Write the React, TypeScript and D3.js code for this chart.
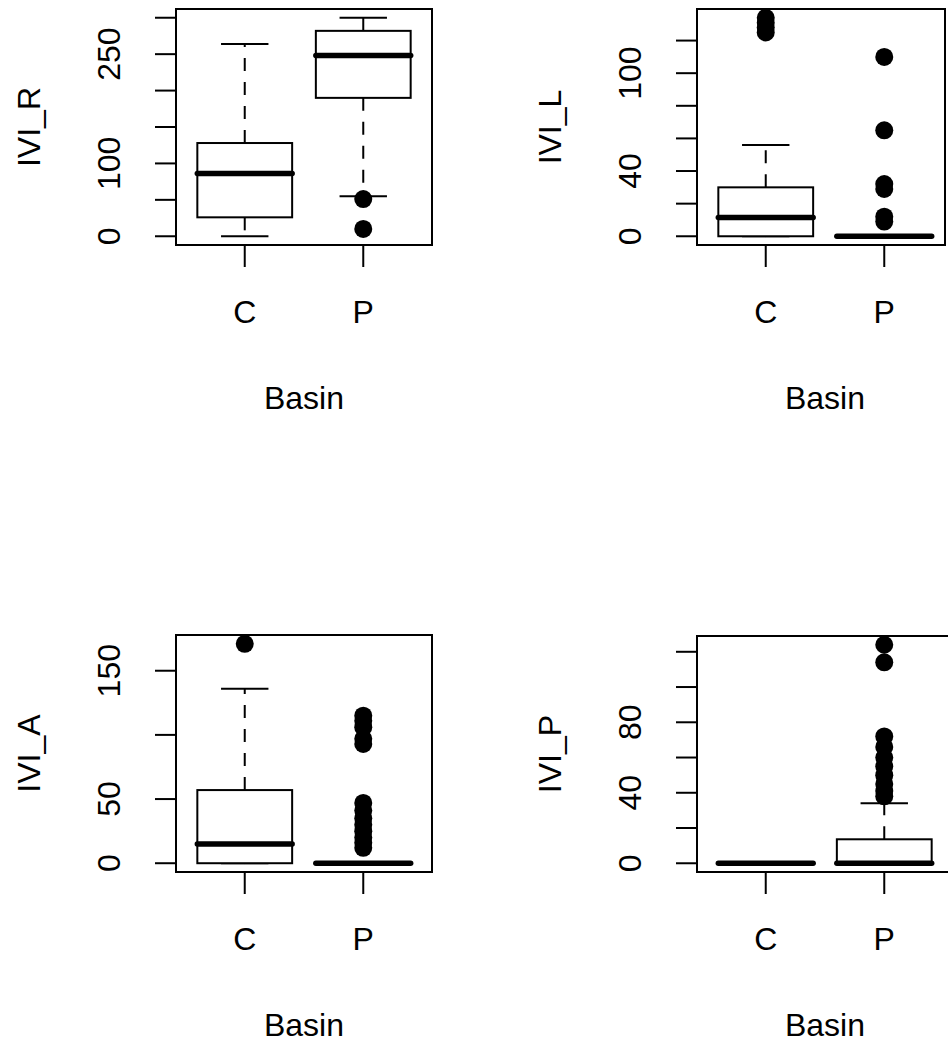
import React from "react";
import * as d3 from "d3";

// categories
const basins = ["C", "P"];
const yVars = ["IVI_R", "IVI_L", "IVI_A", "IVI_P"];

// boxes per basin: [lower whisker, Q1, median, Q3, upper whisker]
const boxR = [[0, 26, 86, 128, 264], [55, 190, 248, 282, 300]];
const outR = [[], [51, 10]];
const ticksR = [0, 50, 100, 150, 200, 250, 300];
const labelsR = [0, 100, 250];

const boxL = [[0, 0, 11.5, 30, 56], [0, 0, 0, 0, 0]];
const outL = [[134, 131, 128, 125], [110, 65, 32, 29, 12, 9]];
const ticksL = [0, 20, 40, 60, 80, 100, 120];
const labelsL = [0, 40, 100];

const boxA = [[0, 0, 15, 57, 136], [0, 0, 0, 0, 0]];
const outA = [[171], [115, 111, 106, 97, 93, 47, 41, 35, 30, 25, 20, 16, 12]];
const ticksA = [0, 50, 100, 150];
const labelsA = [0, 50, 150];

const boxP = [[0, 0, 0, 0, 0], [0, 0, 0, 13.6, 34]];
const outP = [[], [124, 114, 72, 66, 60, 55, 50, 45, 41, 38]];
const ticksP = [0, 20, 40, 60, 80, 100, 120];
const labelsP = [0, 40, 80];

const panelBoxes = [boxR, boxL, boxA, boxP];
const panelOutliers = [outR, outL, outA, outP];
const panelTicks = [ticksR, ticksL, ticksA, ticksP];
const panelLabels = [labelsR, labelsL, labelsA, labelsP];

// plot regions in page pixels
const layout = [
  { left: 176, top: 9, w: 256, h: 236 },
  { left: 697, top: 9, w: 248, h: 236 },
  { left: 176, top: 635, w: 256, h: 237 },
  { left: 697, top: 636, w: 256, h: 236 },
];

const FONT = "'Liberation Sans', Arial, Helvetica, sans-serif";
const FS = 32;

const Panel = ({ i }: { i: number }) => {
  const { left, top, w, h } = layout[i];
  const boxes = panelBoxes[i];
  const outs = panelOutliers[i];
  const all = [...boxes.flat(), ...outs.flat()];
  const lo = d3.min(all) as number;
  const hi = d3.max(all) as number;
  const pad = (hi - lo) * 0.04;
  const y = d3.scaleLinear().domain([lo - pad, hi + pad]).range([top + h, top]);
  // R boxplot x range 0.5..2.5 extended by 4%
  const x = d3.scaleLinear().domain([0.42, 2.58]).range([left, left + 256]);
  const bottom = top + h;
  const half = x(1.4) - x(1);
  const cap = x(1.2) - x(1);

  return (
    <g>
      {boxes.map((b, k) => {
        const cx = x(k + 1);
        const [wl, q1, med, q3, wh] = b;
        return (
          <g key={k}>
            <line x1={cx} x2={cx} y1={y(q3)} y2={y(wh)} stroke="#000" strokeWidth={2} strokeDasharray="13,11" />
            <line x1={cx} x2={cx} y1={y(q1)} y2={y(wl)} stroke="#000" strokeWidth={2} strokeDasharray="13,11" />
            <line x1={cx - cap} x2={cx + cap} y1={y(wh)} y2={y(wh)} stroke="#000" strokeWidth={2} />
            <line x1={cx - cap} x2={cx + cap} y1={y(wl)} y2={y(wl)} stroke="#000" strokeWidth={2} />
            <rect x={cx - half} y={y(q3)} width={2 * half} height={y(q1) - y(q3)} fill="#fff" stroke="#000" strokeWidth={2} />
            <line x1={cx - half} x2={cx + half} y1={y(med)} y2={y(med)} stroke="#000" strokeWidth={5.5} strokeLinecap="round" />
            {outs[k].map((v, j) => (
              <circle key={j} cx={cx} cy={y(v)} r={9} fill="#000" />
            ))}
          </g>
        );
      })}
      <rect x={left} y={top} width={w} height={h} fill="none" stroke="#000" strokeWidth={2} />
      {panelTicks[i].map((t) => (
        <line key={t} x1={left - 21} x2={left} y1={y(t)} y2={y(t)} stroke="#000" strokeWidth={2} />
      ))}
      {panelLabels[i].map((t) => (
        <text
          key={t}
          transform={`translate(${left - 56},${y(t)}) rotate(-90)`}
          textAnchor="middle"
          fontSize={FS}
          fontFamily={FONT}
        >
          {t}
        </text>
      ))}
      <text
        transform={`translate(${left - 136},${top + h / 2}) rotate(-90)`}
        textAnchor="middle"
        fontSize={FS}
        fontFamily={FONT}
      >
        {yVars[i]}
      </text>
      {basins.map((b, k) => (
        <g key={b}>
          <line x1={x(k + 1)} x2={x(k + 1)} y1={bottom} y2={bottom + 22} stroke="#000" strokeWidth={2} />
          <text x={x(k + 1)} y={bottom + 78} textAnchor="middle" fontSize={FS} fontFamily={FONT}>
            {b}
          </text>
        </g>
      ))}
      <text x={left + 128} y={bottom + 164} textAnchor="middle" fontSize={FS} fontFamily={FONT}>
        Basin
      </text>
    </g>
  );
};

const App = () => (
  <svg
    width={948}
    height={1044}
    style={{ position: "absolute", left: 0, top: 0, background: "#fff" }}
  >
    {yVars.map((v, i) => (
      <Panel key={v} i={i} />
    ))}
  </svg>
);

export default App;
